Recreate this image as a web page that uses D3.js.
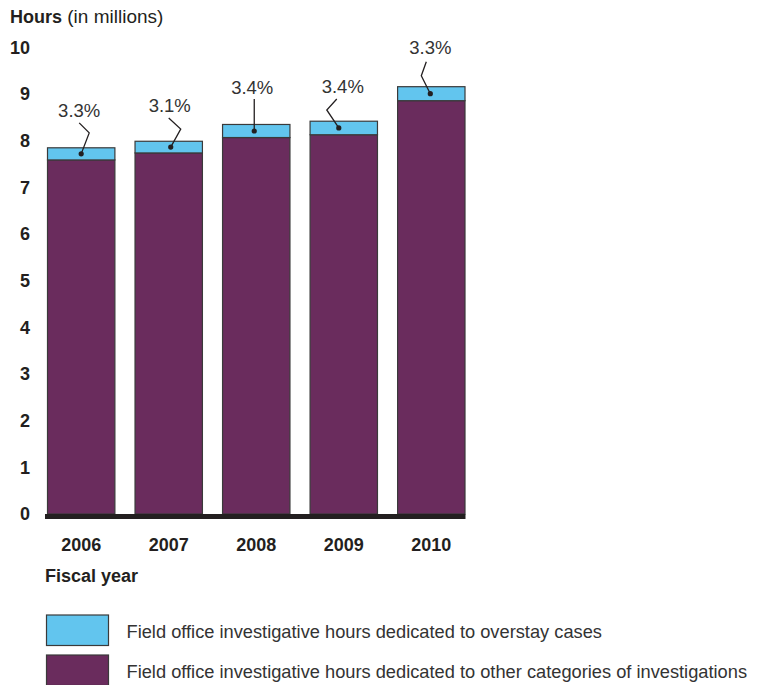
<!DOCTYPE html>
<html>
<head>
<meta charset="utf-8">
<script src="https://cdn.jsdelivr.net/npm/d3@7"></script>
<style>
  html, body { margin: 0; padding: 0; background: #fff; }
  svg { display: block; font-family: "Liberation Sans", Arial, Helvetica, sans-serif; }
</style>
</head>
<body>
<svg id="chart" width="761" height="685"></svg>
<script>
// Fiscal years and investigative hours (millions)
const years = ["2006", "2007", "2008", "2009", "2010"];
const otherHours = [7.59, 7.74, 8.07, 8.13, 8.86];
const overstayHours = [0.26, 0.25, 0.28, 0.29, 0.30];
const shareLabels = ["3.3%", "3.1%", "3.4%", "3.4%", "3.3%"];
const yTicks = [0, 1, 2, 3, 4, 5, 6, 7, 8, 9, 10];
const legendLabels = [
  "Field office investigative hours dedicated to overstay cases",
  "Field office investigative hours dedicated to other categories of investigations"
];

// Leader-line shapes for the percentage callouts, relative to the dot
const callouts = [
  { dotDx: 0,  pts: [[8, -21], [-2, -31]], labelDx: -2, labelDy: -37 },
  { dotDx: 2,  pts: [[10, -18], [-2, -29]], labelDx: -1, labelDy: -35 },
  { dotDx: -2, pts: [[0, -32]],             labelDx: -2, labelDy: -37 },
  { dotDx: -5, pts: [[-12, -18], [-2, -29]], labelDx: 4, labelDy: -35 },
  { dotDx: -1, pts: [[-9, -18], [-4, -32]], labelDx: 0, labelDy: -40 }
];

const colors = { overstay: "#62c5ee", other: "#6a2c5d", stroke: "#3a3a3a", text: "#231f20" };

const svg = d3.select("#chart");

const x = d3.scaleBand().domain(years).range([47.5, 465]).paddingInner(0.23).paddingOuter(0);
const y = d3.scaleLinear().domain([0, 10]).range([514, 47.5]);

const rows = years.map((yr, i) => ({
  year: yr, other: otherHours[i], overstay: overstayHours[i], label: shareLabels[i], callout: callouts[i]
}));

// Y axis labels (no axis line)
const yAxis = d3.axisLeft(y).tickValues(yTicks).tickSize(0).tickPadding(0).tickFormat(d3.format("d"));
const gy = svg.append("g").attr("transform", "translate(30,0)").call(yAxis);
gy.select(".domain").remove();
gy.selectAll("text")
  .attr("font-size", 18).attr("font-weight", "bold").attr("fill", colors.text)
  .attr("font-family", "Liberation Sans, Arial, sans-serif");

// Bars: other categories
svg.append("g").selectAll("rect").data(rows).join("rect")
  .attr("x", d => x(d.year)).attr("width", x.bandwidth())
  .attr("y", d => y(d.other)).attr("height", d => y(0) - y(d.other))
  .attr("fill", colors.other).attr("stroke", colors.stroke).attr("stroke-width", 1.2);

// Bars: overstay cases stacked on top
svg.append("g").selectAll("rect").data(rows).join("rect")
  .attr("x", d => x(d.year)).attr("width", x.bandwidth())
  .attr("y", d => y(d.other + d.overstay)).attr("height", d => y(d.other) - y(d.other + d.overstay))
  .attr("fill", colors.overstay).attr("stroke", colors.stroke).attr("stroke-width", 1.2);

// Baseline
svg.append("line")
  .attr("x1", 45).attr("x2", 465.5).attr("y1", y(0) + 2.5).attr("y2", y(0) + 2.5)
  .attr("stroke", colors.text).attr("stroke-width", 5);

// X axis labels
const xAxis = d3.axisBottom(x).tickSize(0).tickPadding(0);
const gx = svg.append("g").attr("transform", "translate(0,538)").call(xAxis);
gx.select(".domain").remove();
gx.selectAll("text")
  .attr("font-size", 18).attr("font-weight", "bold").attr("fill", colors.text)
  .attr("font-family", "Liberation Sans, Arial, sans-serif");

// Callouts: dot, leader line, percentage
const cg = svg.append("g");
rows.forEach(d => {
  const cx = x(d.year) + x.bandwidth() / 2 + d.callout.dotDx;
  const cy = y(d.other + d.overstay / 2);
  const line = d3.line();
  const pts = [[cx, cy]].concat(d.callout.pts.map(p => [cx + p[0], cy + p[1]]));
  cg.append("path").attr("d", line(pts)).attr("fill", "none")
    .attr("stroke", colors.text).attr("stroke-width", 1.3);
  cg.append("circle").attr("cx", cx).attr("cy", cy).attr("r", 2.6).attr("fill", colors.text);
  cg.append("text").attr("x", cx + d.callout.labelDx).attr("y", cy + d.callout.labelDy)
    .attr("text-anchor", "middle").attr("font-size", 18.5).attr("fill", "#333")
    .text(d.label);
});

// Titles
const title = svg.append("text").attr("x", 10).attr("y", 23).attr("font-size", 18).attr("fill", colors.text);
title.append("tspan").attr("font-weight", "bold").text("Hours");
title.append("tspan").attr("font-size", 19).text(" (in millions)");

svg.append("text").attr("x", 45).attr("y", 582).attr("font-size", 18)
  .attr("font-weight", "bold").attr("fill", colors.text).text("Fiscal year");

// Legend
const legend = svg.append("g").selectAll("g")
  .data([{ c: colors.overstay, t: legendLabels[0] }, { c: colors.other, t: legendLabels[1] }])
  .join("g").attr("transform", (d, i) => `translate(0,${615 + i * 40})`);
legend.append("rect").attr("x", 46.5).attr("y", 0).attr("width", 62).attr("height", 30.5)
  .attr("fill", d => d.c).attr("stroke", colors.stroke).attr("stroke-width", 1.2);
legend.append("text").attr("x", 126.5).attr("y", 23).attr("font-size", 18.25)
  .attr("fill", "#333").text(d => d.t);
</script>
</body>
</html>
